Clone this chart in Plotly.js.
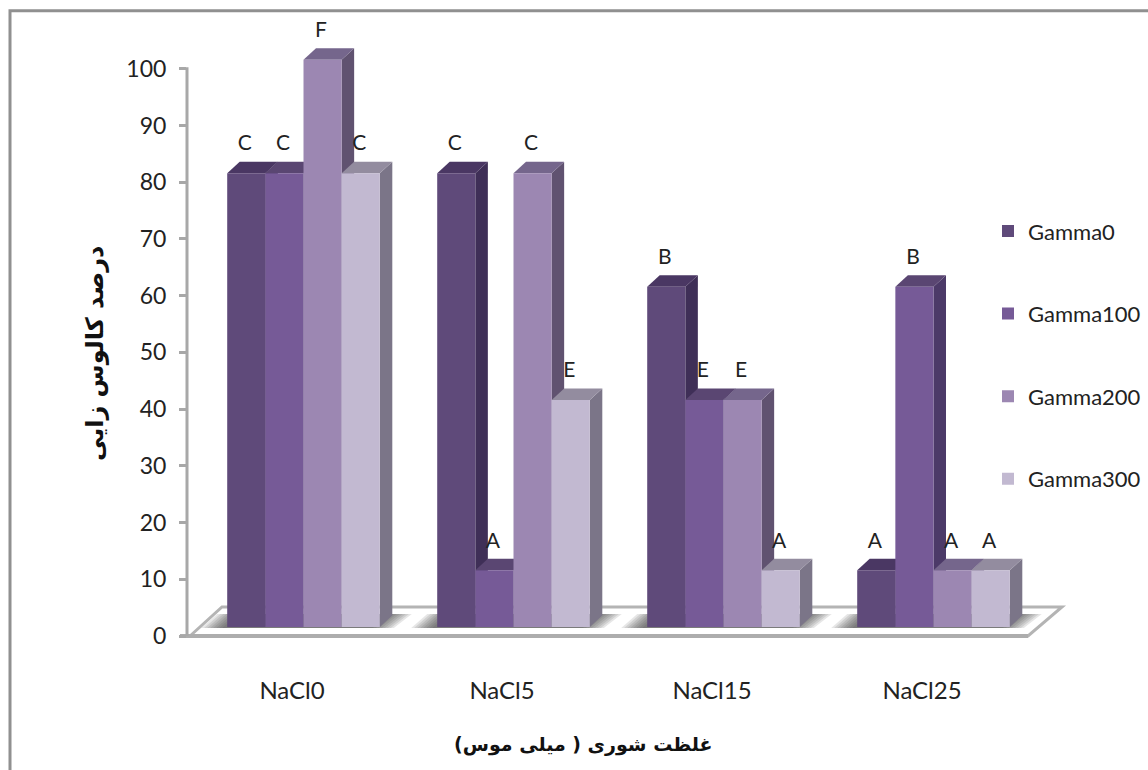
<!DOCTYPE html>
<html><head><meta charset="utf-8">
<script src="https://cdn.plot.ly/plotly-3.0.1.min.js"></script>
<style>html,body{margin:0;padding:0;background:#fff}</style></head>
<body><div id="chart" style="width:1148px;height:770px"></div>
<script>
const categories = ['NaCl0','NaCl5','NaCl15','NaCl25'];
const seriesNames = ['Gamma0','Gamma100','Gamma200','Gamma300'];
const gamma0 = [80,80,60,10];
const gamma100 = [80,10,40,60];
const gamma200 = [100,80,40,10];
const gamma300 = [80,40,10,10];
const letters0 = ['C','C','B','A'];
const letters100 = ['C','A','E','B'];
const letters200 = ['F','C','E','A'];
const letters300 = ['C','E','A','A'];
const yTicks = [0,10,20,30,40,50,60,70,80,90,100];
const frontColors = ['#5f4a7a','#765a97','#9c87b2','#c2b9d1'];
const sideColors = ['#3f2f57','#4c3a68','#605270','#7b7588'];
const topColors = ['#4a3763','#5a4672','#75668c','#938c9f'];
const values = [gamma0,gamma100,gamma200,gamma300];
const letters = [letters0,letters100,letters200,letters300];

const W=1148,H=770,L=187,R=1148,B=636;
const pxY=5.675, yMax=110, T=B-yMax*pxY, pxX=210;
const x0=-(292-L)/pxX;
const xRange=[x0,x0+(R-L)/pxX];
const ux=p=>p/pxX, uy=p=>p/pxY;
const px=p=>(p-L)/(R-L), py=p=>(B-p)/(B-T);
const barW=ux(38.15), groupShift=ux(11.5), base=uy(9), dX=ux(12.5), dY=uy(11.5);
const font='Lato, "Open Sans", sans-serif';
const ink='#222';
const barX=(c,s)=>c+groupShift+(s-1.5)*barW;
const shadowSteps=[26,23,20,17,14,11,8,5];

const traces=[];
categories.forEach((c,i)=>{
  const l=barX(i,0)-barW/2, r=barX(i,3)+barW/2;
  shadowSteps.forEach(a=>{
    traces.push({type:'scatter',mode:'lines',hoverinfo:'skip',showlegend:false,
      x:[l-ux(a),l-ux(a)+ux(16),r+ux(a)+ux(6),r+ux(a)-ux(12),l-ux(a)],
      y:[base-uy(1),base+uy(13),base+uy(13),base-uy(1),base-uy(1)],
      fill:'toself',fillcolor:'rgba(60,60,60,0.13)',line:{width:0}});
  });
});
categories.forEach((c,i)=>{
  seriesNames.forEach((n,s)=>{
    const v=values[s][i]+base, l=barX(i,s)-barW/2, r=l+barW;
    traces.push({type:'scatter',mode:'lines',hoverinfo:'skip',showlegend:false,
      x:[r,r+dX,r+dX,r,r],y:[base,base+dY,v+dY,v,base],
      fill:'toself',fillcolor:sideColors[s],line:{width:0}});
    traces.push({type:'scatter',mode:'lines',hoverinfo:'skip',showlegend:false,
      x:[l,l+dX,r+dX,r,l],y:[v,v+dY,v+dY,v,v],
      fill:'toself',fillcolor:topColors[s],line:{width:0}});
  });
});
seriesNames.forEach((n,s)=>{
  traces.push({type:'bar',name:n,legendgroup:n,xaxis:'x2',yaxis:'y2',
    x:categories.map((c,i)=>barX(i,s)),y:values[s],base:categories.map(()=>base),width:barW,
    marker:{color:frontColors[s],line:{width:0}},
    hovertemplate:n+': %{y}<extra></extra>'});
});
seriesNames.forEach((n,s)=>{
  traces.push({type:'scatter',mode:'text',showlegend:false,hoverinfo:'skip',xaxis:'x2',yaxis:'y2',
    x:categories.map((c,i)=>barX(i,s)-ux(1.5)),y:values[s].map(v=>v+base+uy(28)),
    text:letters[s],textposition:'middle center',textfont:{family:font,size:21,color:ink}});
});

const layout={
  width:W,height:H,paper_bgcolor:'#fff',plot_bgcolor:'rgba(0,0,0,0)',
  margin:{l:L,r:W-R,t:T,b:H-B,pad:0,autoexpand:false},barmode:'overlay',showlegend:true,
  font:{family:font,color:ink,size:20},
  xaxis:{range:xRange,tickmode:'array',tickvals:[0,1,2,3],ticktext:categories,ticks:'',showgrid:false,zeroline:false,
    showline:false,ticklabelstandoff:38,tickfont:{family:font,size:24,color:ink},fixedrange:true},
  yaxis:{range:[0,yMax],tickmode:'array',tickvals:yTicks,ticks:'outside',ticklen:7,tickwidth:3,tickcolor:'#a8a8a8',
    showgrid:false,zeroline:false,showline:false,ticklabelstandoff:8,tickfont:{family:font,size:23,color:ink},fixedrange:true},
  xaxis2:{range:xRange,overlaying:'x',visible:false,fixedrange:true},
  yaxis2:{range:[0,yMax],overlaying:'y',visible:false,fixedrange:true},
  legend:{x:px(988),y:py(210),xanchor:'left',yanchor:'top',bgcolor:'rgba(0,0,0,0)',
    tracegroupgap:51,font:{family:font,size:22,color:ink},itemwidth:30,traceorder:'grouped'},
  shapes:[
    {type:'path',layer:'below',xref:'paper',yref:'paper',line:{color:'#b4b4b4',width:3},fillcolor:'#fff',
      path:`M${px(190)},${py(636)} L${px(222)},${py(607)} L${px(1062)},${py(607)} L${px(1028)},${py(636)} Z`},
    {type:'line',layer:'below',xref:'paper',yref:'paper',x0:px(180),x1:px(1028),y0:py(636),y1:py(636),line:{color:'#adadad',width:4}},
    {type:'line',layer:'below',xref:'paper',yref:'paper',x0:px(187),x1:px(187),y0:py(636),y1:py(67),line:{color:'#a8a8a8',width:3}},
    {type:'path',layer:'below',xref:'paper',yref:'paper',line:{color:'#909090',width:3},fillcolor:'rgba(0,0,0,0)',
      path:`M${px(10)},${py(790)} L${px(10)},${py(10.5)} L${px(1160)},${py(10.5)}`}
  ],
  annotations:[
    {xref:'paper',yref:'paper',x:px(95),y:py(354),xanchor:'center',yanchor:'middle',text:'درصد کالوس زایی',textangle:-90,showarrow:false,
      font:{family:'"DejaVu Sans"',size:24,color:'#111',weight:700}},
    {xref:'paper',yref:'paper',x:px(583),y:py(745),xanchor:'center',yanchor:'middle',text:'غلظت شوری ( میلی موس)',showarrow:false,
      font:{family:'"DejaVu Sans"',size:19,color:'#111',weight:700}}
  ]
};
Plotly.newPlot('chart',traces,layout,{displayModeBar:false});
</script></body></html>
